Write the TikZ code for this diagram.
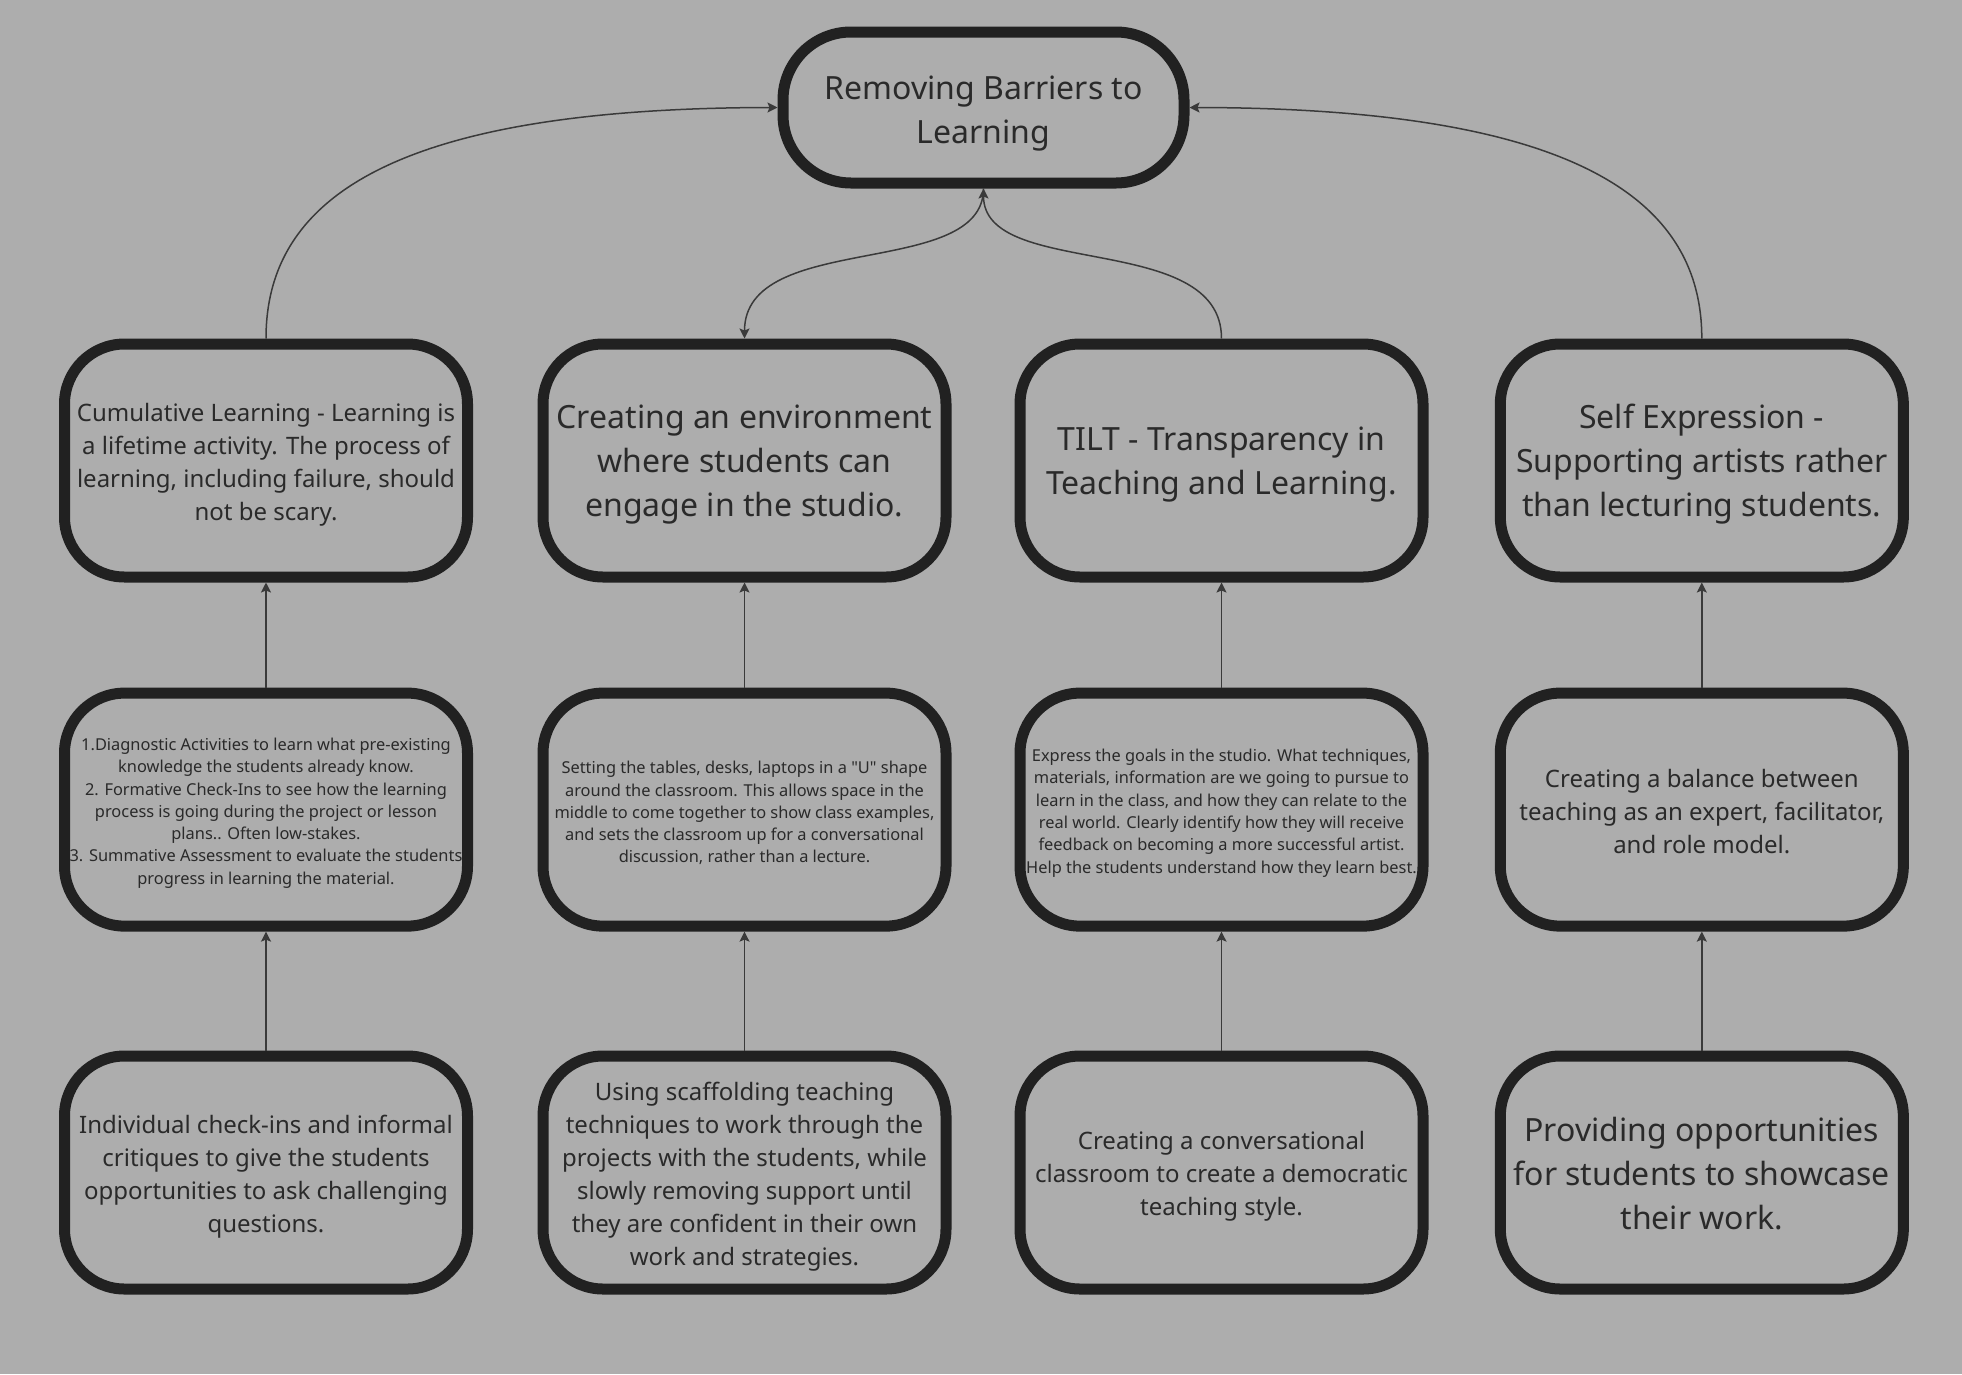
\documentclass[tikz,border=0pt]{standalone}
\usepackage{fontspec}
\setmainfont{Noto Sans}
\newfontfamily\nsans{Noto Sans}
\usetikzlibrary{arrows.meta}
\definecolor{bg}{HTML}{ADADAD}
\definecolor{bd}{HTML}{212121}
\definecolor{ln}{HTML}{3A3A3A}
\definecolor{tx}{HTML}{2A2A2A}
\newcommand\tst[1]{\rule{0pt}{#1pt}}
\begin{document}
\begin{tikzpicture}[x=1pt,y=-1pt,
 box/.style={draw=bd, line width=11pt, rounded corners=60pt, minimum width=403pt, minimum height=233pt, align=center, text=tx, inner sep=0pt},
 big/.style={font=\nsans\fontsize{32}{44}\selectfont},
 mid/.style={font=\nsans\fontsize{24}{33}\selectfont},
 small/.style={font=\nsans\fontsize{16.4}{22.3}\selectfont},
 conn/.style={draw=ln, line width=1.5pt, -{Stealth[length=10pt,width=10pt,inset=2pt]}}
]
\fill[bg] (0,0) rectangle (1962,1374);
\useasboundingbox (0,0) rectangle (1962,1374);

\node[box, big, minimum width=401pt, minimum height=151pt, rounded corners=68pt] (top) at (983.5,107.5) {\tst{35}Removing Barriers to\\Learning};

\node[box, mid] (a1) at (266,460.5) {\tst{26}Cumulative Learning - Learning is\\a lifetime activity. The process of\\learning, including failure, should\\not be scary.};
\node[box, big] (b1) at (744.5,460.5) {\tst{32}Creating an environment\\where students can\\engage in the studio.};
\node[box, big] (c1) at (1221.5,460.5) {\tst{32}TILT - Transparency in\\Teaching and Learning.};
\node[box, big] (d1) at (1701.8,460.5) {\tst{32}Self Expression -\\Supporting artists rather\\than lecturing students.};

\node[box, small] (a2) at (266,809.6) {\tst{19.5}1.Diagnostic Activities to learn what pre-existing\\knowledge the students already know.\\2. Formative Check-Ins to see how the learning\\process is going during the project or lesson\\plans.. Often low-stakes.\\3. Summative Assessment to evaluate the students\\progress in learning the material.};
\node[box, small] (b2) at (744.5,809.6) {\tst{19.5}Setting the tables, desks, laptops in a "U" shape\\around the classroom. This allows space in the\\middle to come together to show class examples,\\and sets the classroom up for a conversational\\discussion, rather than a lecture.};
\node[box, small] (c2) at (1221.5,809.6) {\tst{19.5}Express the goals in the studio. What techniques,\\materials, information are we going to pursue to\\learn in the class, and how they can relate to the\\real world. Clearly identify how they will receive\\feedback on becoming a more successful artist.\\Help the students understand how they learn best.};
\node[box, mid] (d2) at (1701.8,809.6) {\tst{23}Creating a balance between\\teaching as an expert, facilitator,\\and role model.};

\node[box, mid] (a3) at (266,1172.5) {\tst{26}Individual check-ins and informal\\critiques to give the students\\opportunities to ask challenging\\questions.};
\node[box, mid] (b3) at (744.5,1172.5) {\tst{26}Using scaffolding teaching\\techniques to work through the\\projects with the students, while\\slowly removing support until\\they are confident in their own\\work and strategies.};
\node[box, mid] (c3) at (1221.5,1172.5) {\tst{26}Creating a conversational\\classroom to create a democratic\\teaching style.};
\node[box, big] (d3) at (1701.8,1172.5) {\tst{27}Providing opportunities\\for students to showcase\\their work.};

\foreach \c in {a,b,c,d}{
  \draw[conn] (\c3.north) -- (\c2.south);
  \draw[conn] (\c2.north) -- (\c1.south);
}

\draw[conn] (a1.north) .. controls (266,200) and (390,108) .. (top.west);
\draw[conn] (d1.north) .. controls (1701.8,200) and (1577,108) .. (top.east);
\draw[conn] (c1.north) .. controls (1221.5,230) and (983.5,280) .. (top.south);
\draw[conn] (top.south) .. controls (983.5,280) and (744.5,230) .. (b1.north);
\end{tikzpicture}
\end{document}
